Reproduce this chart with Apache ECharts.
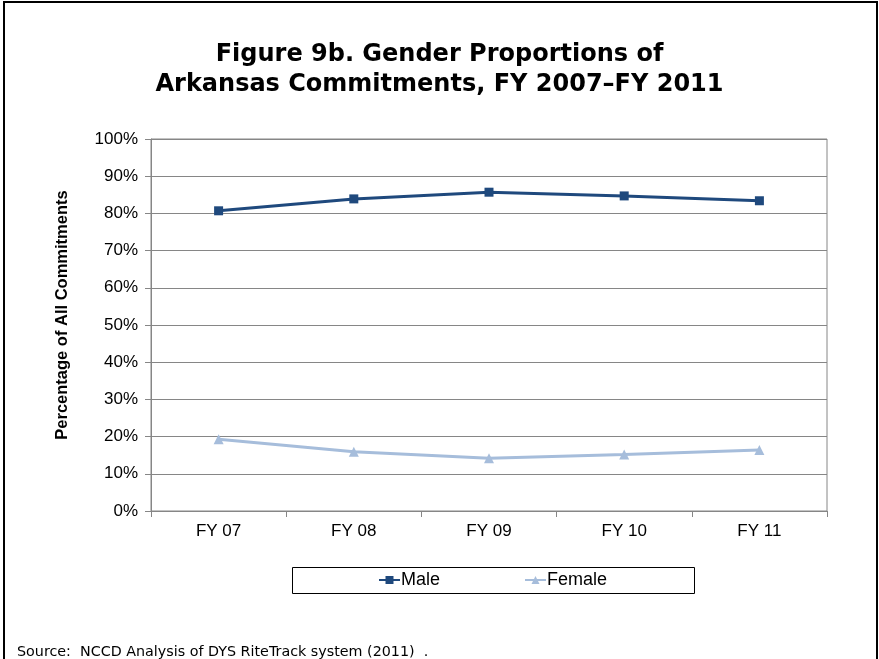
<!DOCTYPE html>
<html><head><meta charset="utf-8">
<script src="https://cdn.jsdelivr.net/npm/echarts@6/dist/echarts.min.js"></script>
<style>html,body{margin:0;padding:0;background:#fff}#c{width:879px;height:659px}</style>
</head><body><div id="c"></div>
<script>
var categories = ['FY 07','FY 08','FY 09','FY 10','FY 11'];
var male = [80.7, 83.9, 85.7, 84.7, 83.4];
var female = [19.3, 15.9, 14.2, 15.2, 16.4];
var titleLines = ['Figure 9b. Gender Proportions of', 'Arkansas Commitments, FY 2007\u2013FY 2011'];
var yAxisName = 'Percentage of All Commitments';
var sourceText = 'Source:  NCCD Analysis of DYS RiteTrack system (2011)  .';

var chart = echarts.init(document.getElementById('c'), null, {renderer:'canvas'});
chart.setOption({
  animation:false,
  backgroundColor:'#fff',
  title:{text:titleLines.join('\n'), left:'center', top:35, textStyle:{fontFamily:'DejaVu Sans', fontWeight:'bold', fontSize:24, lineHeight:30, color:'#000'}},
  grid:{left:151, top:139, width:676, height:372, show:true, borderColor:'#868686', borderWidth:1},
  legend:{data:[{name:'Male'},{name:'Female'}], left:378, top:568, height:24, padding:[3,0,0,0],
    itemGap:84, itemWidth:21, itemHeight:10, textStyle:{fontFamily:'Liberation Sans', fontSize:18, color:'#000', padding:[0,0,0,-4]}},
  graphic:[
    {type:'rect', shape:{x:292.5,y:567.5,width:402,height:26}, style:{fill:'none', stroke:'#000', lineWidth:1}, z:-1},
    {type:'rect', shape:{x:4,y:2,width:873,height:700}, style:{fill:'none', stroke:'#000', lineWidth:2}},
    {type:'text', left:17, top:645, style:{text:sourceText, font:'14.3px "DejaVu Sans"', fill:'#000'}},
    {type:'text', x:62, y:315, rotation:Math.PI/2, style:{text:yAxisName, font:'bold 16.5px "Liberation Sans"', fill:'#000', align:'center', verticalAlign:'middle'}}
  ],
  xAxis:{type:'category', data:categories, boundaryGap:true,
    axisLine:{lineStyle:{color:'#868686'}}, axisTick:{show:true, length:6, lineStyle:{color:'#868686'}},
    axisLabel:{fontFamily:'Liberation Sans', fontSize:17, color:'#000', margin:12}},
  yAxis:{type:'value', min:0, max:100, interval:10,
    axisLine:{show:true, lineStyle:{color:'#868686'}}, axisTick:{show:true, length:6, lineStyle:{color:'#868686'}},
    splitLine:{lineStyle:{color:'#868686'}},
    axisLabel:{formatter:'{value}%', fontFamily:'Liberation Sans', fontSize:17, color:'#000', margin:13}},
  series:[
    {name:'Male', type:'line', data:male, symbol:'rect', symbolSize:9, lineStyle:{color:'#1f497d', width:3}, itemStyle:{color:'#1f497d'}},
    {name:'Female', type:'line', data:female, symbol:'triangle', symbolSize:10, lineStyle:{color:'#a6bddb', width:3}, itemStyle:{color:'#a6bddb'}}
  ]
});
</script></body></html>
